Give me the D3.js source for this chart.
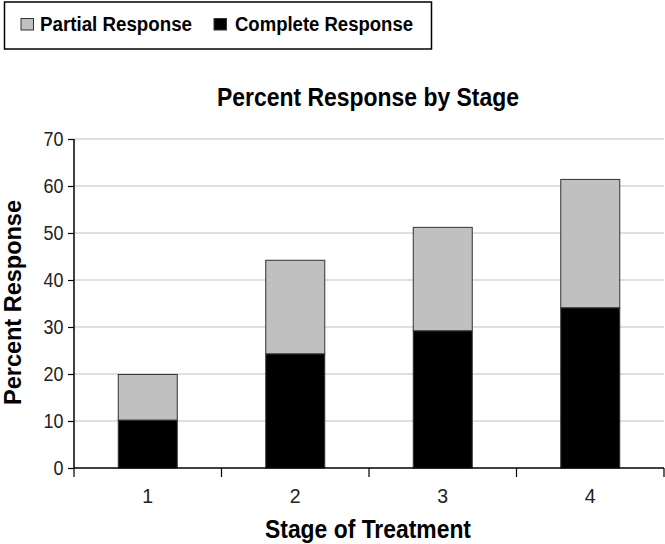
<!DOCTYPE html>
<html><head><meta charset="utf-8">
<script src="https://cdn.jsdelivr.net/npm/d3@7"></script>
<style>body{margin:0;background:#fff}svg{display:block}</style>
</head><body>
<svg id="c" width="665" height="544"></svg>
<script>
const categories = ["1","2","3","4"];
const completeResponse = [10.2, 24.3, 29.2, 34.1];
const partialResponse = [9.7, 19.9, 22.0, 27.3];
const yTicks = [0,10,20,30,40,50,60,70];
const seriesNames = ["Partial Response","Complete Response"];
const seriesColors = ["#c0c0c0","#000000"];

const FONT = "'Liberation Sans Narrow','Arial Narrow','Liberation Sans',Arial,sans-serif";
const svg = d3.select("#c");
const m = {left:74, right:664, top:139, bottom:468};

const x = d3.scaleBand().domain(categories).range([m.left, m.right]).paddingInner(0.6).paddingOuter(0.3);
const xEdges = d3.scaleLinear().domain([0, categories.length]).range([m.left, m.right]);
const y = d3.scaleLinear().domain([0,70]).range([m.bottom, m.top]);

// gridlines
svg.append("g").selectAll("line").data(yTicks.filter(d=>d>0)).join("line")
  .attr("x1", m.left).attr("x2", m.right)
  .attr("y1", d=>y(d)).attr("y2", d=>y(d))
  .attr("stroke","#d4d4d4").attr("stroke-width",1.5);

// stacked data
const rows = categories.map((c,i)=>({cat:c, complete:completeResponse[i], partial:partialResponse[i]}));
const stack = d3.stack().keys(["complete","partial"])(rows);
const colorFor = {complete: seriesColors[1], partial: seriesColors[0]};

svg.append("g").selectAll("g").data(stack).join("g")
  .attr("fill", s=>colorFor[s.key])
  .selectAll("rect").data(s=>s).join("rect")
  .attr("x", d=>x(d.data.cat)).attr("width", x.bandwidth())
  .attr("y", d=>y(d[1])).attr("height", d=>y(d[0])-y(d[1]))
  .attr("stroke","#333").attr("stroke-width",1);

// y axis
const yAxis = svg.append("g").attr("transform",`translate(${m.left},0)`)
  .call(d3.axisLeft(y).tickValues(yTicks).tickSize(6).tickPadding(4).tickFormat(d3.format("d")));
yAxis.select(".domain").attr("stroke","#000").attr("stroke-width",1.5).attr("d",`M0,${m.top}V${m.bottom}`);
yAxis.selectAll(".tick line").attr("stroke","#000").attr("stroke-width",1.2);
yAxis.selectAll("text").attr("font-family",FONT).attr("font-size",19.5).attr("fill","#222")
  .attr("transform","scale(0.92,1)").attr("x",-11.4);

// x axis line + ticks at band edges
const xg = svg.append("g").attr("transform",`translate(0,${m.bottom})`);
xg.append("line").attr("x1",m.left).attr("x2",m.right).attr("stroke","#000").attr("stroke-width",1.5);
xg.selectAll("line.t").data(d3.range(categories.length+1)).join("line").attr("class","t")
  .attr("x1",d=>xEdges(d)).attr("x2",d=>xEdges(d)).attr("y1",0).attr("y2",9)
  .attr("stroke","#000").attr("stroke-width",1.2);
xg.selectAll("text").data(categories).join("text")
  .attr("x",d=>x(d)+x.bandwidth()/2).attr("y",35)
  .attr("text-anchor","middle").attr("font-family",FONT).attr("font-size",19.5).attr("fill","#222")
  .text(d=>d);

// titles
svg.append("text").attr("x",217).attr("y",106)
  .attr("font-family",FONT).attr("font-weight","bold").attr("font-size",26)
  .attr("textLength",302).attr("lengthAdjust","spacingAndGlyphs").text("Percent Response by Stage");
svg.append("text").attr("x",265).attr("y",538)
  .attr("font-family",FONT).attr("font-weight","bold").attr("font-size",25)
  .attr("textLength",206).attr("lengthAdjust","spacingAndGlyphs").text("Stage of Treatment");
svg.append("text").attr("transform","translate(21,405) rotate(-90)")
  .attr("font-family",FONT).attr("font-weight","bold").attr("font-size",23)
  .attr("textLength",205).attr("lengthAdjust","spacingAndGlyphs").text("Percent Response");

// legend
const lg = svg.append("g");
lg.append("rect").attr("x",4.5).attr("y",2).attr("width",427).attr("height",47)
  .attr("fill","#fff").attr("stroke","#000").attr("stroke-width",1.5);
const legX = [21, 214];
const legTextX = [40, 235];
const legTextLen = [152, 178];
seriesNames.forEach((n,i)=>{
  lg.append("rect").attr("x",legX[i]).attr("y",18.5).attr("width",12.5).attr("height",11.5)
    .attr("fill",seriesColors[i]).attr("stroke","#333").attr("stroke-width",1);
  lg.append("text").attr("x",legTextX[i]).attr("y",31).attr("font-family",FONT)
    .attr("font-weight","bold").attr("font-size",19.5)
    .attr("textLength",legTextLen[i]).attr("lengthAdjust","spacingAndGlyphs").text(n);
});
</script>
</body></html>
